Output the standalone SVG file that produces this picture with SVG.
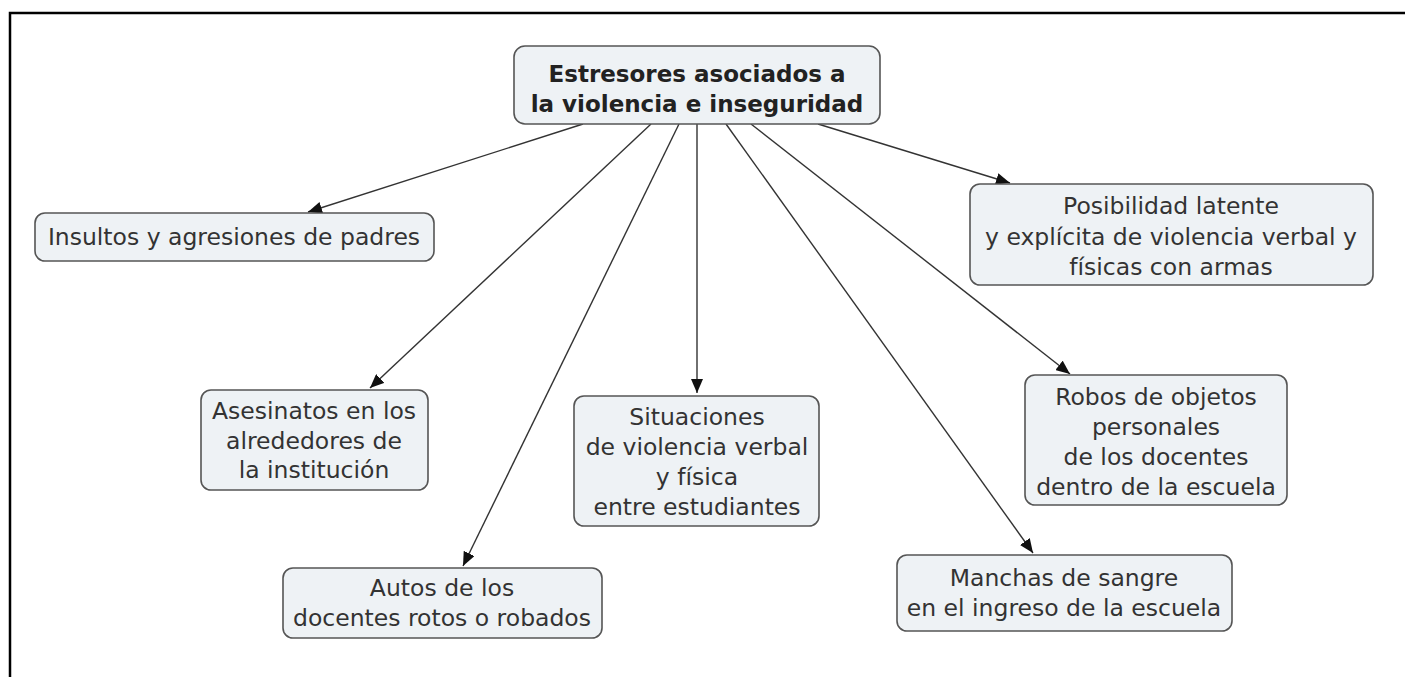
<svg xmlns="http://www.w3.org/2000/svg" width="1405" height="677" viewBox="0 0 1405 677">
<style>
.box{fill:#eef2f5;stroke:#555;stroke-width:1.6}
.t{font-family:"DejaVu Sans",Verdana,sans-serif;font-size:23.5px;fill:#333;text-anchor:middle}
.b{font-weight:bold;fill:#222;font-size:23px}
.c{stroke:#333;stroke-width:1.4;fill:none;marker-end:url(#ah)}
</style>
<defs>
<marker id="ah" viewBox="0 0 14 12" refX="14" refY="6" markerWidth="14" markerHeight="12" markerUnits="userSpaceOnUse" orient="auto">
<path d="M0,0 L14,6 L0,12 Z" fill="#111"/>
</marker>
</defs>
<rect width="1405" height="677" fill="#fff"/>
<path d="M10,677 V13 H1405" fill="none" stroke="#000" stroke-width="2.5"/>
<g id="connectors">
<line class="c" x1="583" y1="124" x2="308" y2="212"/>
<line class="c" x1="651" y1="124" x2="370" y2="388"/>
<line class="c" x1="679" y1="124" x2="463" y2="566"/>
<line class="c" x1="697" y1="124" x2="697" y2="393"/>
<line class="c" x1="726" y1="124" x2="1033" y2="553"/>
<line class="c" x1="751" y1="124" x2="1070" y2="374"/>
<line class="c" x1="818" y1="124" x2="1010" y2="183"/>
</g>
<g id="n-root">
<rect class="box" x="514" y="46" width="366" height="78" rx="11"/>
<text class="t b" x="697" y="82">Estresores asociados a</text>
<text class="t b" x="697" y="112">la violencia e inseguridad</text>
</g>
<g id="n-insultos">
<rect class="box" x="35" y="213" width="399" height="48" rx="10"/>
<text class="t" x="234" y="245">Insultos y agresiones de padres</text>
</g>
<g id="n-posibilidad">
<rect class="box" x="970" y="184" width="403" height="101" rx="10"/>
<text class="t" x="1171" y="214">Posibilidad latente</text>
<text class="t" x="1171" y="245">y explícita de violencia verbal y</text>
<text class="t" x="1171" y="275">físicas con armas</text>
</g>
<g id="n-asesinatos">
<rect class="box" x="201" y="390" width="227" height="100" rx="10"/>
<text class="t" x="314" y="419">Asesinatos en los</text>
<text class="t" x="314" y="449">alrededores de</text>
<text class="t" x="314" y="478">la institución</text>
</g>
<g id="n-situaciones">
<rect class="box" x="574" y="396" width="245" height="130" rx="10"/>
<text class="t" x="697" y="425">Situaciones</text>
<text class="t" x="697" y="455">de violencia verbal</text>
<text class="t" x="697" y="485">y física</text>
<text class="t" x="697" y="515">entre estudiantes</text>
</g>
<g id="n-robos">
<rect class="box" x="1025" y="375" width="262" height="130" rx="10"/>
<text class="t" x="1156" y="405">Robos de objetos</text>
<text class="t" x="1156" y="435">personales</text>
<text class="t" x="1156" y="465">de los docentes</text>
<text class="t" x="1156" y="495">dentro de la escuela</text>
</g>
<g id="n-autos">
<rect class="box" x="283" y="568" width="319" height="70" rx="10"/>
<text class="t" x="442" y="596">Autos de los</text>
<text class="t" x="442" y="626">docentes rotos o robados</text>
</g>
<g id="n-manchas">
<rect class="box" x="897" y="555" width="335" height="76" rx="10"/>
<text class="t" x="1064" y="586">Manchas de sangre</text>
<text class="t" x="1064" y="616">en el ingreso de la escuela</text>
</g>
</svg>
